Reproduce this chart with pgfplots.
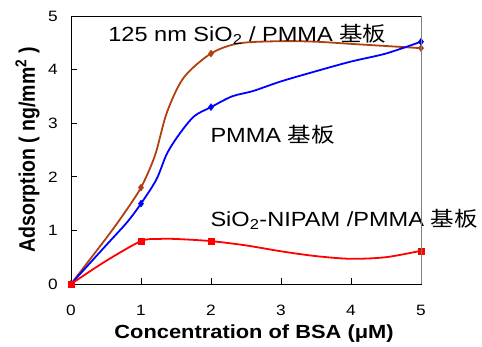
\documentclass[border=0pt]{standalone}
\usepackage{graphicx}
\usepackage{pgfplots}
\pgfplotsset{compat=1.18}
\usepackage{fontspec}
\setmainfont{Liberation Sans}[FakeStretch=1.15]
\newfontfamily\plainsans{Liberation Sans}
\newfontfamily\cjk{Noto Sans CJK SC}[FakeStretch=1.15]
\definecolor{cbrown}{RGB}{176,64,16}
\definecolor{cblue}{RGB}{0,0,255}
\definecolor{cred}{RGB}{255,0,0}
\begin{document}
\begin{tikzpicture}
\begin{axis}[
  name=ax,
  scale only axis, width=350pt, height=268pt,
  xmin=0, xmax=5, ymin=0, ymax=5,
  xtick={0,1,2,3,4,5}, ytick={0,1,2,3,4,5},
  tick align=inside, xtick pos=bottom, ytick pos=left,
  major tick length=6pt,
  every tick/.style={black, line width=0.8pt},
  /pgf/number format/assume math mode=true,
  ticklabel style={font=\fontsize{15}{17}\selectfont},
  xticklabel style={anchor=north, inner sep=0pt, yshift=-21pt},
  yticklabel style={anchor=east, inner sep=0pt, xshift=-13pt},
  axis line style={black, line width=0.8pt},
  xlabel={\bfseries Concentration of BSA (μM)},
  ylabel={\scalebox{1}[1.15]{\plainsans\bfseries Adsorption ( ng/mm\textsuperscript{2} )}},
  xlabel style={font=\fontsize{19}{21}\selectfont, at={(axis description cs:0.523,0)}, anchor=base, yshift=-55pt},
  ylabel style={font=\fontsize{19.5}{21}\selectfont, at={(axis description cs:-0.1029,0.5)}, anchor=base},
  clip=false,
]
% brown
\addplot[cbrown, line width=1.8pt, smooth, tension=0.5] coordinates {
 (0,0) (0.5,0.85) (0.75,1.3) (1,1.8) (1.2,2.4) (1.37,3.2) (1.61,3.85) (2,4.3) (2.4,4.49) (3,4.53) (3.5,4.52) (4,4.48) (4.5,4.44) (5,4.4)};
\addplot[cbrown, only marks, mark=diamond*, mark size=3.5pt] coordinates {(0,0) (1,1.8) (2,4.3) (5,4.4)};
% blue
\addplot[cblue, line width=1.8pt, smooth, tension=0.5] coordinates {
 (0,0) (0.5,0.72) (0.8,1.15) (1,1.5) (1.22,1.95) (1.37,2.43) (1.55,2.8) (1.76,3.13) (2,3.3) (2.3,3.5) (2.6,3.6) (3,3.78) (3.5,3.97) (4,4.15) (4.5,4.3) (5,4.52)};
\addplot[cblue, only marks, mark=diamond*, mark size=3.5pt] coordinates {(0,0) (1,1.5) (2,3.3) (5,4.52)};
% red
\addplot[cred, line width=1.8pt, smooth, tension=0.5] coordinates {
 (0,0) (0.5,0.43) (1,0.8) (1.25,0.84) (1.5,0.84) (2,0.8) (2.5,0.72) (3,0.61) (3.5,0.52) (4,0.47) (4.5,0.5) (5,0.62)};
\addplot[cred, only marks, mark=square*, mark size=3pt] coordinates {(0,0) (1,0.8) (2,0.8) (5,0.62)};
\node[anchor=base west, inner sep=0pt, font=\fontsize{20.5}{23}\selectfont] at (axis cs:0.53,4.53) {125 nm SiO\textsubscript{2} / PMMA {\cjk 基板}};
\node[anchor=base west, inner sep=0pt, font=\fontsize{20.5}{23}\selectfont] at (axis cs:1.99,2.64) {PMMA {\cjk 基板}};
\node[anchor=base west, inner sep=0pt, font=\fontsize{20.5}{23}\selectfont] at (axis cs:1.99,1.07) {SiO\textsubscript{2}-NIPAM /PMMA {\cjk 基板}};
\end{axis}
\draw[gray, line width=0.8pt] (ax.south east) -- (ax.north east);
\pgfresetboundingbox
\path (ax.south west) ++(-71pt,-63pt) rectangle ++(482pt,347pt);
\end{tikzpicture}
\end{document}
